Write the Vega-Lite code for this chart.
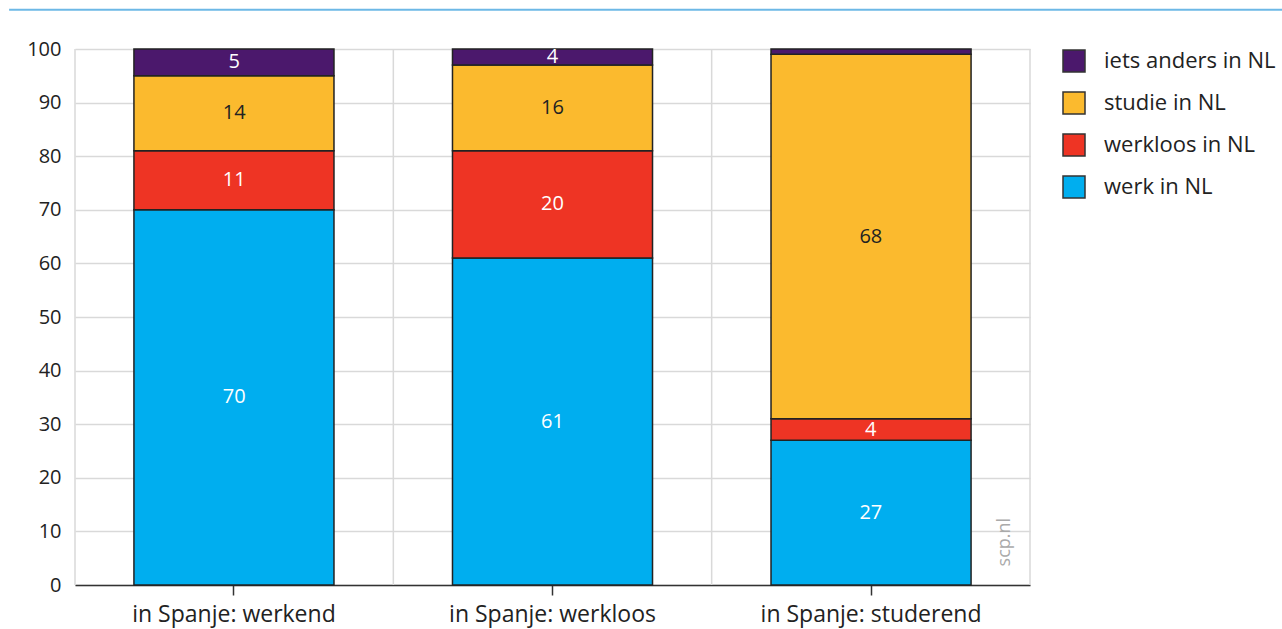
{
  "$schema": "https://vega.github.io/schema/vega-lite/v6.json",
  "width": 955,
  "height": 536,
  "autosize": {"type": "none"},
  "padding": {"left": 75, "top": 49, "right": 252, "bottom": 44},
  "background": "white",
  "config": {
    "font": "Open Sans",
    "view": {"stroke": null},
    "scale": {"bandPaddingInner": 0.372, "bandPaddingOuter": 0.185},
    "axis": {"labelFont": "Open Sans", "labelColor": "#222", "titleFont": "Open Sans"},
    "legend": {"labelFont": "Open Sans"}
  },
  "datasets": {
    "bars": [
      {"groep": "in Spanje: werkend", "cat": "werk in NL", "value": 70, "label": "70", "order": 1},
      {"groep": "in Spanje: werkend", "cat": "werkloos in NL", "value": 11, "label": "11", "order": 2},
      {"groep": "in Spanje: werkend", "cat": "studie in NL", "value": 14, "label": "14", "order": 3},
      {"groep": "in Spanje: werkend", "cat": "iets anders in NL", "value": 5, "label": "5", "order": 4},
      {"groep": "in Spanje: werkloos", "cat": "werk in NL", "value": 61, "label": "61", "order": 1},
      {"groep": "in Spanje: werkloos", "cat": "werkloos in NL", "value": 20, "label": "20", "order": 2},
      {"groep": "in Spanje: werkloos", "cat": "studie in NL", "value": 16, "label": "16", "order": 3},
      {"groep": "in Spanje: werkloos", "cat": "iets anders in NL", "value": 3, "label": "4", "order": 4},
      {"groep": "in Spanje: studerend", "cat": "werk in NL", "value": 27, "label": "27", "order": 1},
      {"groep": "in Spanje: studerend", "cat": "werkloos in NL", "value": 4, "label": "4", "order": 2},
      {"groep": "in Spanje: studerend", "cat": "studie in NL", "value": 68, "label": "68", "order": 3},
      {"groep": "in Spanje: studerend", "cat": "iets anders in NL", "value": 1, "label": "", "order": 4}
    ],
    "grenzen": [{"grens": 0}, {"grens": 1}, {"grens": 2}, {"grens": 3}],
    "source": [{"groep": "in Spanje: studerend", "text": "scp.nl"}]
  },
  "layer": [
    {
      "data": {"values": [{"a": 1}]},
      "mark": {"type": "rule", "color": "#6db8e6", "strokeWidth": 2, "clip": false},
      "encoding": {
        "x": {"datum": -0.069, "type": "quantitative", "scale": {"domain": [0, 1], "nice": false, "zero": false}, "axis": null},
        "x2": {"datum": 1.264},
        "y": {"datum": 107.3, "type": "quantitative", "scale": {"domain": [0, 100], "nice": false}}
      }
    },
    {
      "data": {"name": "grenzen"},
      "mark": {"type": "rule", "color": "#d9d9d9", "strokeWidth": 1.5},
      "encoding": {
        "x": {"field": "grens", "type": "quantitative", "scale": {"domain": [0, 3], "nice": false, "zero": false}, "axis": null}
      }
    },
    {
      "data": {"name": "bars"},
      "mark": {"type": "bar", "stroke": "#222", "strokeWidth": 1.5},
      "encoding": {
        "x": {
          "field": "groep", "type": "nominal",
          "scale": {"domain": ["in Spanje: werkend", "in Spanje: werkloos", "in Spanje: studerend"]},
          "axis": {"orient": "bottom", "title": null, "grid": false, "domain": true, "domainColor": "#333", "domainWidth": 1.5, "ticks": true, "tickColor": "#333", "tickWidth": 1.5, "tickSize": 10, "labelFontSize": 23, "labelPadding": 8, "labelAngle": 0, "labelLimit": 400}
        },
        "y": {
          "field": "value", "type": "quantitative", "stack": "zero",
          "scale": {"domain": [0, 100], "nice": false},
          "axis": {"title": null, "values": [0, 10, 20, 30, 40, 50, 60, 70, 80, 90, 100], "grid": true, "gridColor": "#d9d9d9", "gridWidth": 1.5, "domain": false, "ticks": false, "labelFontSize": 20, "labelPadding": 14}
        },
        "color": {
          "field": "cat", "type": "nominal",
          "scale": {
            "domain": ["iets anders in NL", "studie in NL", "werkloos in NL", "werk in NL"],
            "range": ["#4b186c", "#fbba2e", "#ee3424", "#00aeef"]
          },
          "legend": {
            "title": null, "orient": "right", "offset": 32,
            "symbolType": "square", "symbolSize": 484, "symbolStrokeColor": "#333", "symbolStrokeWidth": 1.5,
            "labelFontSize": 22, "labelColor": "#222", "labelOffset": 18, "rowPadding": 14, "labelLimit": 300, "padding": 0
          }
        },
        "order": {"field": "order", "type": "quantitative"}
      }
    },
    {
      "data": {"name": "bars"},
      "mark": {"type": "text", "fontSize": 20, "baseline": "middle", "align": "center"},
      "encoding": {
        "x": {
          "field": "groep", "type": "nominal",
          "scale": {"domain": ["in Spanje: werkend", "in Spanje: werkloos", "in Spanje: studerend"]},
          "axis": null
        },
        "y": {"field": "value", "type": "quantitative", "stack": "zero", "bandPosition": 0.5},
        "order": {"field": "order", "type": "quantitative"},
        "text": {"field": "label"},
        "color": {"condition": {"test": "datum.cat === 'studie in NL'", "value": "#222"}, "value": "white"}
      }
    },
    {
      "data": {"name": "source"},
      "mark": {"type": "text", "fontSize": 18, "angle": 270, "align": "center", "baseline": "middle", "color": "#aaaaaa", "dy": 134},
      "encoding": {
        "x": {"field": "groep", "type": "nominal", "scale": {"domain": ["in Spanje: werkend", "in Spanje: werkloos", "in Spanje: studerend"]}, "axis": null},
        "y": {"datum": 8, "type": "quantitative"},
        "text": {"field": "text"}
      }
    }
  ],
  "resolve": {"scale": {"x": "independent"}, "axis": {"x": "independent"}}
}
